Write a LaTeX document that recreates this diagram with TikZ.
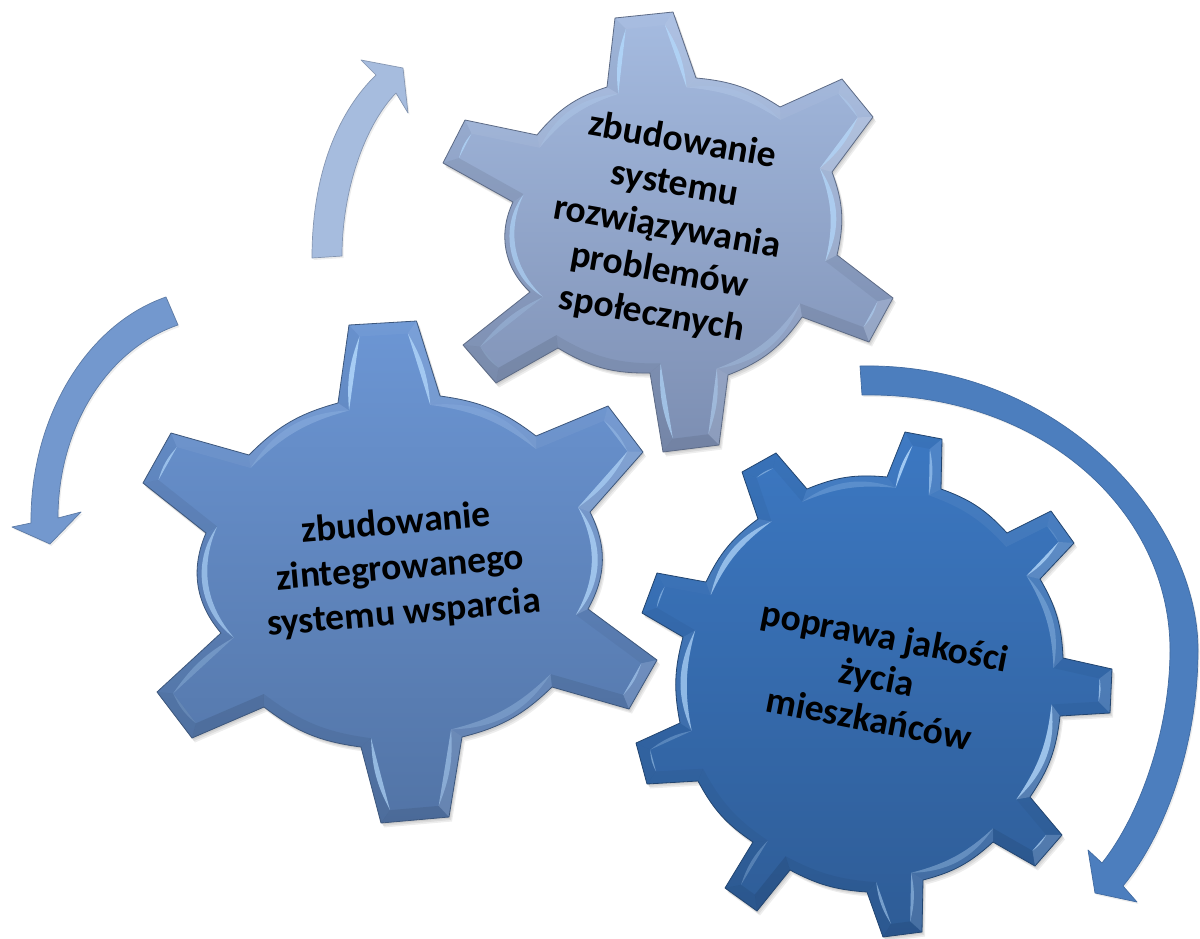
\documentclass[tikz,border=0pt]{standalone}
\usepackage{fontspec}
\setmainfont{Carlito}
\usetikzlibrary{calc}
\definecolor{gOneTop}{RGB}{108,150,212}
\definecolor{gOneBot}{RGB}{82,116,166}
\definecolor{gTwoTop}{RGB}{165,187,224}
\definecolor{gTwoBot}{RGB}{124,142,178}
\definecolor{gThreeTop}{RGB}{60,120,194}
\definecolor{gThreeBot}{RGB}{46,92,150}
\definecolor{arrowA}{RGB}{166,188,222}
\definecolor{arrowB}{RGB}{115,152,206}
\definecolor{arrowC}{RGB}{76,126,190}
\definecolor{glint}{RGB}{178,216,252}
\tikzset{
  gearlabel/.style={font=\bfseries\fontsize{37.5}{#1}\selectfont,align=center,text=black,inner sep=0pt},
  softshadow/.style={fill=black,opacity=0.07},
  arrowshape/.style={line width=.7pt,line join=round},
}
% #1 prefix, #2 n, #3 xs, #4 ys, #5 bends, #6 tones, #7 wedges, #8 inset, #9 colour stem
\newcommand{\makegear}[9]{%
  \def\gxs{{#3}}\def\gys{{#4}}\def\gbs{{#5}}\def\gts{{#6}}\def\gws{{#7}}%
  \pgfmathtruncatemacro\gnm{#2-1}%
  \gdef\opath{}%
  \foreach \i in {0,...,\gnm}{%
    \pgfmathtruncatemacro\gp{mod(\i+#2-1,#2)}%
    \pgfmathtruncatemacro\gq{mod(\i+1,#2)}%
    \pgfmathsetmacro\cx{\gxs[\i]}\pgfmathsetmacro\cy{\gys[\i]}%
    \pgfmathsetmacro\px{\gxs[\gp]}\pgfmathsetmacro\py{\gys[\gp]}%
    \pgfmathsetmacro\nx{\gxs[\gq]}\pgfmathsetmacro\ny{\gys[\gq]}%
    \pgfmathsetmacro\la{veclen(\cx-\px,\cy-\py)}%
    \pgfmathsetmacro\lb{veclen(\nx-\cx,\ny-\cy)}%
    \pgfmathsetmacro\ax{(\cx-\px)/\la}\pgfmathsetmacro\ay{(\cy-\py)/\la}%
    \pgfmathsetmacro\bx{(\nx-\cx)/\lb}\pgfmathsetmacro\by{(\ny-\cy)/\lb}%
    \pgfmathsetmacro\den{1+\ay*\by+\ax*\bx}%
    \pgfmathsetmacro\ix{\cx+#8*(-\ay-\by)/\den}%
    \pgfmathsetmacro\iy{\cy+#8*(\ax+\bx)/\den}%
    \coordinate (#1o\i) at (\cx,\cy);
    \coordinate (#1i\i) at (\ix,\iy);
    \pgfmathsetmacro\gb{\gbs[\i]}%
    \xdef\opath{\opath to[bend left=\gb] (#1o\gq) }%
  }%
  \begin{scope}[transform canvas={xshift=1pt,yshift=-1.5pt}]
    \fill[softshadow] (#1o0) \opath -- cycle;
  \end{scope}
  \begin{scope}[transform canvas={xshift=2pt,yshift=-3pt}]
    \fill[softshadow] (#1o0) \opath -- cycle;
  \end{scope}
  \begin{scope}[transform canvas={xshift=3pt,yshift=-4.5pt}]
    \fill[softshadow] (#1o0) \opath -- cycle;
  \end{scope}
  \shade[top color=#9Top,bottom color=#9Bot] (#1o0) \opath -- cycle;
  \foreach \i in {0,...,\gnm}{%
    \pgfmathtruncatemacro\gq{mod(\i+1,#2)}%
    \pgfmathsetmacro\gb{\gbs[\i]}%
    \pgfmathsetmacro\gt{\gts[\i]}%
    \pgfmathsetmacro\gw{\gws[\i]/100}%
    \pgfmathsetmacro\ga{abs(\gt)/100}%
    \ifdim\gt pt>0pt \def\gc{white}\else \def\gc{black}\fi
    \fill[\gc,opacity=\ga] (#1o\i) to[bend left=\gb] (#1o\gq) -- (#1i\gq) to[bend right=\gb] (#1i\i) -- cycle;
    \pgfmathsetmacro\gbb{\gb+13}%
    \fill[glint,opacity=\gw] (#1i\i) to[bend left=\gbb] (#1i\gq) to[bend right=\gb] (#1i\i) -- cycle;
  }%
  \draw[#9Bot!75!black,line width=.8pt,line join=round] (#1o0) \opath -- cycle;
}
\begin{document}
\begin{tikzpicture}[x=1pt,y=-1pt]
\useasboundingbox (0,0) rectangle (1200,938);
\fill[white] (0,0) rectangle (1200,938);

% gear 1 (left)
\makegear{a}{24}
 {349,416.5,440,536,608,643,590,588,657,629,552,462,449,381,361,264,192,157,221,206,143,171,249,338}
 {325,321,396,436,406,452,512,609,660,709,687,737,817,823,747,707,738,692,633,533,483,433,455,403}
 {0,0,15,0,0,0,28,0,0,0,15,0,0,0,15,0,0,0,32,0,0,0,15,0}
 {4,10,10,5,10,18,12,-4,12,-8,8,12,-8,-6,-6,-10,-7,-4,-3,-6,-3,5,8,-3}
 {0,75,12,0,30,60,70,0,50,0,22,45,0,70,0,0,20,30,65,0,70,0,18,85}
 {12}{gOne}

% gear 2 (top)
\makegear{b}{24}
 {615,673,696,780,842,873,832,837,893,869,802,728,719,663,650,558,496,463,530,513,443,465,537,607}
 {18,12,78,107,79,117,172,255,298,342,317,375,445,452,373,348,383,345,292,202,163,120,135,87}
 {0,0,14,0,0,0,17,0,0,0,17,0,0,0,16,0,0,0,36,0,0,0,16,0}
 {4,10,10,5,10,20,12,-5,12,-8,8,12,-8,-6,-6,-10,-7,-4,-3,-8,-3,5,8,-3}
 {0,75,12,0,30,65,70,0,50,0,22,45,0,70,0,0,20,30,65,0,75,0,18,85}
 {12}{gTwo}

% gear 3 (right)
\makegear{c}{36}
 {905,942,941,1007,1051,1074,1040,1063,1112,1110,1060,1030,1062,1035,993,923,922,883,867,790,757,725,753,698,647,636,680,683,642,657,706,758,742,776,807,887}
 {432,439,489,533,511,543,579,658,669,713,716,797,835,866,842,880,932,937,892,870,911,888,842,781,784,743,723,637,613,573,582,519,472,453,489,477}
 {0,0,14,0,0,0,14,0,0,0,14,0,0,0,14,0,0,0,12,0,0,0,14,0,0,0,13,0,0,0,14,0,0,0,14,0}
 {-4,10,5,5,8,18,10,-4,12,-4,18,-4,16,-8,10,12,-8,-4,-5,-10,-7,-4,-4,-4,-4,-4,5,-4,0,2,8,-4,-4,-4,5,2}
 {0,55,0,0,15,75,30,0,65,0,75,0,65,0,30,45,0,55,0,0,0,30,0,0,50,30,70,0,50,0,70,0,50,0,20,85}
 {12}{gThree}

% arrows
\begin{scope}[transform canvas={xshift=1.5pt,yshift=-2pt}]
 \fill[softshadow] (312,258) .. controls (312,170) and (340,110) .. (376,75) -- (361,60) -- (403,68) -- (408,113) -- (396,93) .. controls (365,125) and (342,190) .. (342,256) -- cycle;
 \fill[softshadow] (166,297) .. controls (85,325) and (30,420) .. (31,523) -- (12,527) -- (50,544) -- (81,512) -- (58,518) .. controls (58,430) and (105,350) .. (178,325) -- cycle;
 \fill[softshadow] (860,366) .. controls (1060,362) and (1198,520) .. (1198,650) .. controls (1198,745) and (1165,835) .. (1123,886) -- (1137,902) -- (1095,893) -- (1088,850) -- (1102,863) .. controls (1140,815) and (1170,730) .. (1170,650) .. controls (1170,510) and (1040,392) .. (862,395) -- cycle;
\end{scope}
\filldraw[arrowshape,fill=arrowA,draw=arrowA!80!black] (312,258) .. controls (312,170) and (340,110) .. (376,75) -- (361,60) -- (403,68) -- (408,113) -- (396,93) .. controls (365,125) and (342,190) .. (342,256) -- cycle;
\filldraw[arrowshape,fill=arrowB,draw=arrowB!80!black] (166,297) .. controls (85,325) and (30,420) .. (31,523) -- (12,527) -- (50,544) -- (81,512) -- (58,518) .. controls (58,430) and (105,350) .. (178,325) -- cycle;
\filldraw[arrowshape,fill=arrowC,draw=arrowC!85!black] (860,366) .. controls (1060,362) and (1198,520) .. (1198,650) .. controls (1198,745) and (1165,835) .. (1123,886) -- (1137,902) -- (1095,893) -- (1088,850) -- (1102,863) .. controls (1140,815) and (1170,730) .. (1170,650) .. controls (1170,510) and (1040,392) .. (862,395) -- cycle;

% labels
\node[gearlabel=45,rotate=5] (labelA) at (400,569) {zbudowanie\\zintegrowanego\\systemu wsparcia};
\node[gearlabel=44,rotate=-10] (labelB) at (667,228) {zbudowanie\\systemu\\rozwiązywania\\problemów\\społecznych};
\node[gearlabel=42,rotate=-11] (labelC) at (877,677) {poprawa jakości\\życia\\mieszkańców};
\end{tikzpicture}
\end{document}
